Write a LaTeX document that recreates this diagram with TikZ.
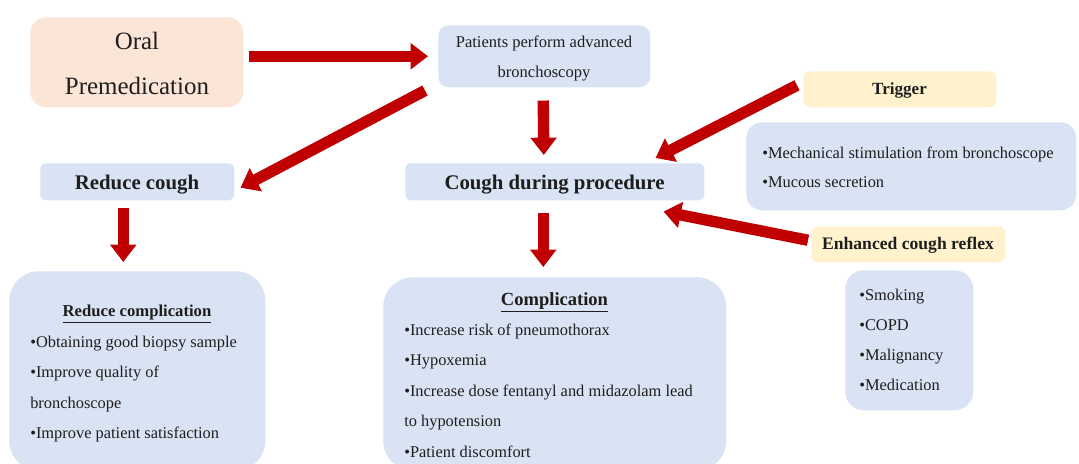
\documentclass[tikz,border=0pt]{standalone}
\usepackage{fontspec}
\setmainfont{Liberation Serif}
\usetikzlibrary{arrows.meta}
\definecolor{boxblue}{HTML}{DAE3F3}
\definecolor{boxpeach}{HTML}{FBE5D6}
\definecolor{boxyellow}{HTML}{FFF2CC}
\definecolor{arrowred}{HTML}{C00000}
\definecolor{ink}{HTML}{1E1E1E}
\begin{document}
\begin{tikzpicture}[x=0.75pt,y=-0.75pt,
  panel/.style={draw=none, inner sep=0pt, anchor=north west, rounded corners=#1},
  redarrow/.style={draw=arrowred, line width=8.5pt, -{Triangle[width=19pt,length=13pt]}},
  ltxt/.style={anchor=base west, inner sep=0pt, text=ink},
  ctxt/.style={anchor=base, inner sep=0pt, text=ink},
  bul/.style={ltxt, font=\fontsize{12.3}{14}\selectfont},
]
\useasboundingbox[fill=white] (0,0) rectangle (1079,464);

% boxes
\node[panel=12pt, fill=boxpeach, minimum width=213*0.75pt, minimum height=90*0.75pt] (oral) at (30,17) {};
\node[panel=8pt, fill=boxblue, minimum width=212*0.75pt, minimum height=62*0.75pt] (pat) at (438,25) {};
\node[panel=4pt, fill=boxblue, minimum width=194*0.75pt, minimum height=37*0.75pt] (rc) at (40,163) {};
\node[panel=4pt, fill=boxblue, minimum width=299*0.75pt, minimum height=37*0.75pt] (cough) at (405,163) {};
\node[panel=5pt, fill=boxyellow, minimum width=193*0.75pt, minimum height=36*0.75pt] (trig) at (803,71) {};
\node[panel=12pt, fill=boxblue, minimum width=330*0.75pt, minimum height=88*0.75pt] (mech) at (746,122) {};
\node[panel=5pt, fill=boxyellow, minimum width=194*0.75pt, minimum height=36*0.75pt] (enh) at (811,226) {};
\node[panel=14pt, fill=boxblue, minimum width=128*0.75pt, minimum height=140*0.75pt] (risk) at (845,270) {};
\node[panel=22pt, fill=boxblue, minimum width=256*0.75pt, minimum height=199*0.75pt] (rcomp) at (9,271) {};
\node[panel=22pt, fill=boxblue, minimum width=343*0.75pt, minimum height=193*0.75pt] (comp) at (383,277) {};

% texts
\node[ctxt, font=\fontsize{18.7}{20}\selectfont] (oralA) at (137,50) {Oral};
\node[ctxt, font=\fontsize{18.7}{20}\selectfont] (oralB) at (137,94) {Premedication};
\node[ctxt, font=\fontsize{12.4}{14}\selectfont] (patA) at (544,47.5) {Patients perform advanced};
\node[ctxt, font=\fontsize{12.4}{14}\selectfont] (patB) at (544,77.5) {bronchoscopy};
\node[ctxt, font=\bfseries\fontsize{15.6}{18}\selectfont] (rcT) at (137,189) {Reduce cough};
\node[ctxt, font=\bfseries\fontsize{15.6}{18}\selectfont] (coughT) at (554.5,189) {Cough during procedure};
\node[ctxt, font=\bfseries\fontsize{12.8}{14}\selectfont] (trigT) at (899.5,94.5) {Trigger};
\node[ctxt, font=\bfseries\fontsize{13.2}{14}\selectfont] (enhT) at (908,249) {Enhanced cough reflex};

\node[bul] (m1) at (762,158.5) {•Mechanical stimulation from bronchoscope};
\node[bul] (m2) at (762,187.5) {•Mucous secretion};

\node[bul] (s1) at (859,300.5) {•Smoking};
\node[bul] (s2) at (859,330.5) {•COPD};
\node[bul] (s3) at (859,360.5) {•Malignancy};
\node[bul] (s4) at (859,390.5) {•Medication};

\node[ctxt, font=\bfseries\fontsize{12.5}{14}\selectfont] (rcompT) at (137,316.5) {\underline{Reduce complication}};
\node[bul] (r1) at (30,347.5) {•Obtaining good biopsy sample};
\node[bul] (r2) at (30,377.5) {•Improve quality of};
\node[bul] (r3) at (30,408.5) {bronchoscope};
\node[bul] (r4) at (30,438.5) {•Improve patient satisfaction};

\node[ctxt, font=\bfseries\fontsize{13.9}{16}\selectfont] (compT) at (554.5,305) {\underline{Complication}};
\node[bul] (c1) at (404,335.5) {•Increase risk of pneumothorax};
\node[bul] (c2) at (404,365.5) {•Hypoxemia};
\node[bul] (c3) at (404,396.5) {•Increase dose fentanyl and midazolam lead};
\node[bul] (c4) at (404,426.5) {to hypotension};
\node[bul] (c5) at (404,457.5) {•Patient discomfort};

% arrows
\draw[redarrow, shorten <=5*0.75pt, shorten >=10*0.75pt] (oral.east |- pat.west) -- (pat.west);
\draw[redarrow] ([shift={(-13,3)}]pat.south west) -- ([shift={(6,6)}]rc.east);
\draw[redarrow] ([shift={(-1,13)}]pat.south) -- ([shift={(-11,-8)}]cough.north);
\draw[redarrow] ([shift={(-6,-4)}]trig.west) -- ([shift={(-49,-5)}]cough.north east);
\draw[redarrow] ([shift={(-3,-4)}]enh.west) -- ([shift={(-41,11)}]cough.south east);
\draw[redarrow] ([shift={(-14,7)}]rc.south) -- ([shift={(-14,-9)}]rcomp.north);
\draw[redarrow] ([shift={(-11.5,12)}]cough.south) -- ([shift={(-11.5,-10)}]comp.north);
\end{tikzpicture}
\end{document}
